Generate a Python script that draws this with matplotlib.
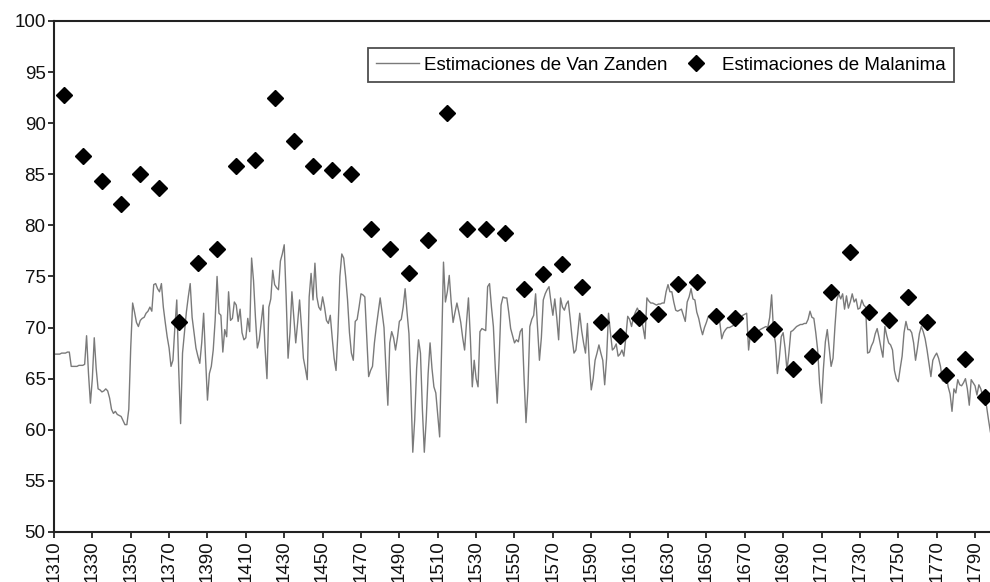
import numpy as np
import matplotlib.pyplot as plt

plt.rcParams['font.family'] = ['Liberation Sans', 'DejaVu Sans']

# Van Zanden estimates, one value per year 1310-1799
vz_years = np.arange(1310, 1800)
vz_values = [
    67.4, 67.4, 67.4, 67.4, 67.5, 67.5, 67.5, 67.6, 67.6, 66.2,  # 1310s
    66.2, 66.2, 66.2, 66.3, 66.3, 66.3, 66.4, 69.2, 65.5, 62.6,  # 1320s
    65.0, 69.0, 66.0, 64.0, 63.9, 63.7, 63.8, 64.0, 63.8, 63.1,  # 1330s
    62.0, 61.6, 61.8, 61.5, 61.4, 61.3, 60.9, 60.5, 60.5, 62.0,  # 1340s
    68.0, 72.4, 71.5, 70.5, 70.1, 70.7, 70.9, 71.0, 71.4, 71.6,  # 1350s
    72.0, 71.6, 74.2, 74.3, 73.8, 73.5, 74.3, 72.0, 70.5, 69.1,  # 1360s
    68.0, 66.2, 66.8, 70.0, 72.7, 66.0, 60.6, 67.5, 69.5, 71.5,  # 1370s
    73.0, 74.3, 71.0, 69.5, 68.0, 67.2, 66.5, 68.5, 71.4, 67.0,  # 1380s
    62.9, 65.5, 66.2, 67.8, 70.7, 75.0, 71.4, 71.2, 67.6, 69.8,  # 1390s
    69.1, 73.5, 70.7, 70.9, 72.5, 72.2, 70.6, 71.8, 69.5, 68.8,  # 1400s
    69.0, 70.9, 69.6, 76.8, 74.6, 71.0, 68.0, 68.8, 70.5, 72.2,  # 1410s
    68.0, 65.0, 72.0, 72.8, 75.6, 74.2, 73.9, 73.7, 76.5, 77.2,  # 1420s
    78.1, 73.0, 67.0, 69.5, 73.5, 71.0, 68.5, 70.5, 72.7, 70.0,  # 1430s
    67.0, 66.0, 64.9, 73.0, 75.3, 72.7, 76.3, 73.0, 72.0, 71.7,  # 1440s
    73.0, 72.0, 70.7, 70.4, 71.2, 69.0, 67.0, 65.8, 69.6, 75.0,  # 1450s
    77.2, 76.8, 75.0, 72.7, 69.5, 67.5, 66.8, 70.6, 70.8, 72.0,  # 1460s
    73.3, 73.2, 73.0, 69.0, 65.2, 65.8, 66.2, 68.5, 70.1, 71.5,  # 1470s
    72.9, 71.5, 70.0, 66.0, 62.4, 68.5, 69.6, 69.0, 67.8, 69.0,  # 1480s
    70.6, 70.8, 72.0, 73.8, 71.5, 69.4, 64.0, 57.8, 61.0, 66.0,  # 1490s
    68.8, 67.5, 62.0, 57.8, 61.0, 65.5, 68.5, 66.0, 64.2, 63.6,  # 1500s
    61.5, 59.3, 68.0, 76.4, 72.5, 73.5, 75.1, 72.5, 70.5, 71.5,  # 1510s
    72.4, 71.5, 70.5, 69.0, 67.8, 70.5, 72.9, 69.0, 64.2, 66.8,  # 1520s
    65.0, 64.2, 69.6, 69.9, 69.8, 69.7, 74.0, 74.3, 72.0, 70.1,  # 1530s
    66.0, 62.6, 67.0, 72.2, 73.0, 72.9, 72.9, 71.5, 69.9, 69.2,  # 1540s
    68.5, 68.8, 68.6, 69.6, 69.9, 65.0, 60.7, 64.0, 70.1, 70.8,  # 1550s
    71.2, 73.3, 70.0, 66.8, 69.0, 72.7, 73.3, 73.7, 74.0, 72.5,  # 1560s
    71.2, 72.8, 71.0, 68.8, 72.9, 72.0, 71.7, 72.3, 72.6, 70.9,  # 1570s
    69.0, 67.5, 67.8, 69.5, 71.4, 69.7, 68.5, 67.5, 70.4, 66.5,  # 1580s
    63.9, 65.0, 66.8, 67.5, 68.3, 67.5, 66.8, 64.4, 67.0, 71.4,  # 1590s
    69.5, 67.8, 68.0, 68.4, 67.2, 67.4, 67.8, 67.2, 69.0, 71.1,  # 1600s
    70.8, 70.1, 71.0, 71.5, 71.9, 71.5, 71.0, 70.0, 68.9, 72.9,  # 1610s
    72.6, 72.4, 72.4, 72.3, 72.2, 72.3, 72.3, 72.4, 72.4, 73.5,  # 1620s
    74.2, 73.5, 73.5, 72.5, 71.7, 71.6, 71.7, 71.8, 71.2, 70.6,  # 1630s
    72.5, 73.0, 73.8, 72.8, 72.7, 71.5, 70.9, 70.0, 69.3, 70.0,  # 1640s
    70.5, 71.1, 71.1, 71.2, 70.9, 70.8, 70.9, 70.5, 68.9, 69.5,  # 1650s
    69.8, 70.0, 70.0, 70.1, 70.2, 70.4, 70.6, 70.9, 71.0, 71.2,  # 1660s
    71.3, 71.4, 67.8, 69.5, 69.4, 69.3, 69.5, 69.6, 69.8, 69.9,  # 1670s
    70.0, 70.1, 70.0, 71.0, 73.2, 69.6, 68.5, 65.5, 67.0, 69.1,  # 1680s
    69.5, 68.0, 65.8, 67.5, 69.6, 69.7, 69.9, 70.1, 70.2, 70.3,  # 1690s
    70.3, 70.4, 70.4, 70.8, 71.6, 71.0, 70.9, 69.5, 67.8, 64.5,  # 1700s
    62.6, 66.0, 68.6, 69.8, 68.0, 66.2, 67.0, 70.1, 72.7, 73.3,  # 1710s
    72.8, 73.3, 71.8, 73.1, 71.9, 72.5, 73.3, 72.5, 72.8, 71.8,  # 1720s
    71.9, 72.7, 72.2, 72.0, 67.5, 67.6, 68.2, 68.6, 69.4, 69.9,  # 1730s
    69.0, 68.0, 67.1, 70.1, 69.2, 68.5, 68.3, 67.8, 65.8, 65.0,  # 1740s
    64.7, 66.0, 67.2, 69.5, 70.6, 69.8, 69.8, 69.5, 68.5, 66.8,  # 1750s
    68.0, 69.4, 70.1, 69.6, 68.9, 67.8, 66.5, 65.2, 66.8, 67.2,  # 1760s
    67.5, 67.0, 66.2, 64.8, 64.7, 65.4, 64.2, 63.5, 61.8, 64.0,  # 1770s
    63.6, 64.9, 64.4, 64.3, 64.6, 65.0, 64.0, 62.4, 64.9, 64.6,  # 1780s
    64.3, 63.4, 64.4, 64.0, 63.3, 62.9, 62.3, 61.0, 59.8, 59.0,  # 1790s
]

# Malanima estimates, one per decade
mal_years = np.arange(1315, 1800, 10)
mal_values = [
    92.8, 86.8, 84.3, 82.1, 85.0, 83.7, 70.5, 76.3, 77.7, 85.8,
    86.4, 92.5, 88.3, 85.8, 85.4, 85.0, 79.6, 77.7, 75.3, 78.6,
    91.0, 79.6, 79.6, 79.3, 73.8, 75.2, 76.2, 74.0, 70.5, 69.2,
    70.9, 71.3, 74.3, 74.5, 71.1, 70.9, 69.4, 69.9, 65.9, 67.2,
    73.5, 77.4, 71.5, 70.7, 73.0, 70.5, 65.4, 66.9, 63.2,
]

xtick_years = np.arange(1310, 1800, 20)
ytick_values = np.arange(50, 101, 5)

fig = plt.figure(figsize=(9.9, 5.82), dpi=100)
ax = fig.add_axes([0.0545, 0.086, 0.9455, 0.878])

ax.plot(vz_years, vz_values, color='#7a7a7a', linewidth=1.0,
        label='Estimaciones de Van Zanden')
ax.plot(mal_years, mal_values, linestyle='none', marker='D', markersize=7.8,
        color='black', label='Estimaciones de Malanima')

ax.set_xlim(1310, 1797.8)
ax.set_ylim(50, 100)
ax.set_xticks(xtick_years)
ax.set_xticklabels([str(y) for y in xtick_years], rotation=90)
ax.set_yticks(ytick_values)
ax.tick_params(axis='both', labelsize=13.5, length=4, width=1.2,
               direction='out', pad=2, colors='#111111')

for side in ['left', 'bottom', 'top']:
    ax.spines[side].set_linewidth(1.5)
    ax.spines[side].set_color('#222222')
ax.spines['right'].set_visible(False)

leg = ax.legend(loc='upper right', bbox_to_anchor=(0.9615, 0.947), ncol=2,
                fontsize=13.5, frameon=True, fancybox=False, borderaxespad=0,
                handlelength=2.3, handletextpad=0.25, columnspacing=0.35,
                borderpad=0.45)
leg.get_frame().set_edgecolor('#222222')
leg.get_frame().set_linewidth(1.3)

fig.savefig('out.png', dpi=100)
